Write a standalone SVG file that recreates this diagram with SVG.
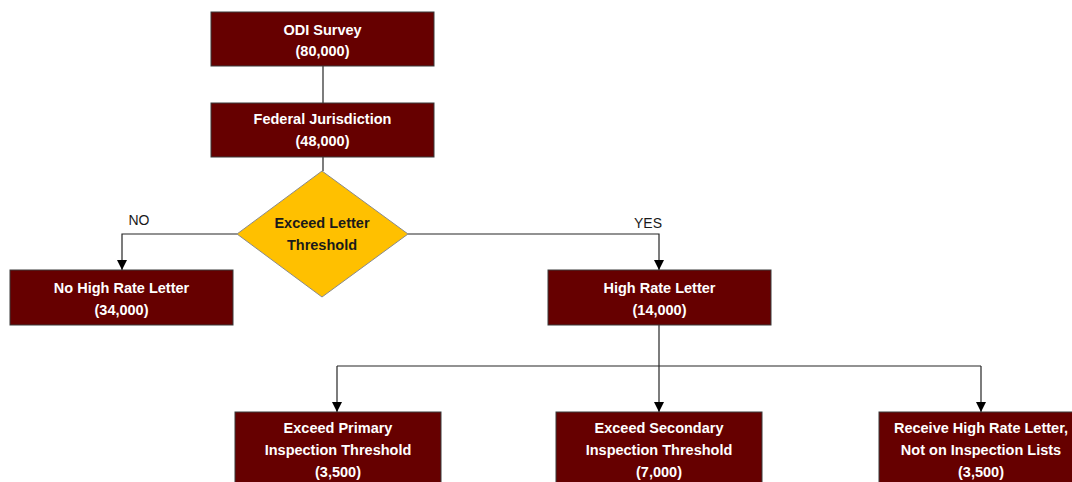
<svg xmlns="http://www.w3.org/2000/svg" width="1072" height="482" viewBox="0 0 1072 482">
  <defs>
    <style>
      .box { fill: #660000; stroke: #3a3a3a; stroke-width: 1; }
      .dec { fill: #FFC000; stroke: #8a8a8a; stroke-width: 1; }
      .lbl { font-family: "Liberation Sans", Arial, sans-serif; font-size: 14.5px; font-weight: bold; fill: #ffffff; text-anchor: middle; }
      .dlbl { font-family: "Liberation Sans", Arial, sans-serif; font-size: 14.5px; font-weight: bold; fill: #1a1a1a; text-anchor: middle; }
      .elbl { font-family: "Liberation Sans", Arial, sans-serif; font-size: 14px; fill: #1a1a1a; text-anchor: middle; }
      .wire { fill: none; stroke: #262626; stroke-width: 1.2; }
    </style>
    <marker id="arrow" viewBox="0 0 10 10" refX="10" refY="5" markerWidth="10" markerHeight="10" markerUnits="userSpaceOnUse" orient="auto">
      <path d="M0,0 L10,5 L0,10 Z" fill="#000000"/>
    </marker>
  </defs>
  <rect width="1072" height="482" fill="#ffffff"/>

  <!-- connectors -->
  <g id="connectors">
    <line class="wire" x1="323" y1="66" x2="323" y2="103"/>
    <line class="wire" x1="323" y1="157" x2="323" y2="171"/>
    <polyline class="wire" points="237,234 122,234 122,270" marker-end="url(#arrow)"/>
    <polyline class="wire" points="408,234 659,234 659,270" marker-end="url(#arrow)"/>
    <line class="wire" x1="659" y1="325" x2="659" y2="366"/>
    <line class="wire" x1="337" y1="366" x2="981" y2="366"/>
    <line class="wire" x1="337" y1="366" x2="337" y2="412" marker-end="url(#arrow)"/>
    <line class="wire" x1="659" y1="366" x2="659" y2="412" marker-end="url(#arrow)"/>
    <line class="wire" x1="981" y1="366" x2="981" y2="412" marker-end="url(#arrow)"/>
    <text class="elbl" x="139" y="225">NO</text>
    <text class="elbl" x="648" y="228">YES</text>
  </g>

  <g id="odi-survey">
    <rect class="box" x="211" y="12" width="223" height="54"/>
    <text class="lbl" x="322.5" y="35">ODI Survey</text>
    <text class="lbl" x="322.5" y="56">(80,000)</text>
  </g>

  <g id="federal-jurisdiction">
    <rect class="box" x="211" y="103" width="223" height="54"/>
    <text class="lbl" x="322.5" y="124">Federal Jurisdiction</text>
    <text class="lbl" x="322.5" y="146">(48,000)</text>
  </g>

  <g id="letter-threshold">
    <polygon class="dec" points="322,171 408,234 322,297 237,234"/>
    <text class="dlbl" x="322" y="228">Exceed Letter</text>
    <text class="dlbl" x="322" y="250">Threshold</text>
  </g>

  <g id="no-letter">
    <rect class="box" x="10" y="270" width="223" height="55"/>
    <text class="lbl" x="121.5" y="293">No High Rate Letter</text>
    <text class="lbl" x="121.5" y="315">(34,000)</text>
  </g>

  <g id="high-rate-letter">
    <rect class="box" x="548" y="270" width="223" height="55"/>
    <text class="lbl" x="659.5" y="293">High Rate Letter</text>
    <text class="lbl" x="659.5" y="315">(14,000)</text>
  </g>

  <g id="primary-inspection">
    <rect class="box" x="235" y="412" width="206" height="80"/>
    <text class="lbl" x="338" y="433">Exceed Primary</text>
    <text class="lbl" x="338" y="455">Inspection Threshold</text>
    <text class="lbl" x="338" y="477">(3,500)</text>
  </g>

  <g id="secondary-inspection">
    <rect class="box" x="556" y="412" width="206" height="80"/>
    <text class="lbl" x="659" y="433">Exceed Secondary</text>
    <text class="lbl" x="659" y="455">Inspection Threshold</text>
    <text class="lbl" x="659" y="477">(7,000)</text>
  </g>

  <g id="not-on-lists">
    <rect class="box" x="879" y="412" width="206" height="80"/>
    <text class="lbl" x="981" y="433">Receive High Rate Letter,</text>
    <text class="lbl" x="981" y="455">Not on Inspection Lists</text>
    <text class="lbl" x="981" y="477">(3,500)</text>
  </g>
</svg>
